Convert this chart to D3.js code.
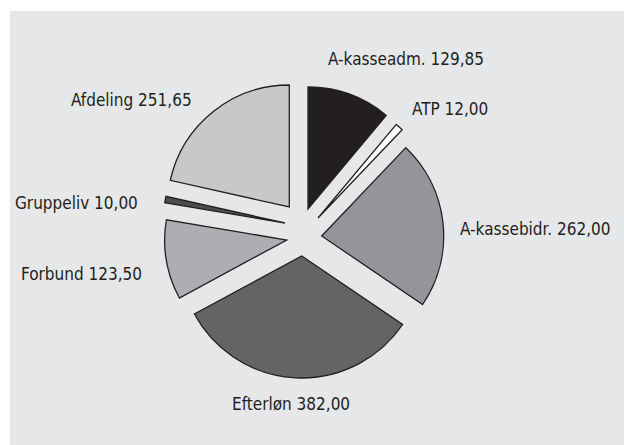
<!DOCTYPE html>
<html>
<head>
<meta charset="utf-8">
<script src="https://cdn.jsdelivr.net/npm/d3@7/dist/d3.min.js"></script>
<style>
  html, body { margin: 0; padding: 0; background: #ffffff; }
  svg { display: block; }
  text { font-family: "DejaVu Sans Condensed", "Liberation Sans Narrow", "Liberation Sans", sans-serif; }
</style>
</head>
<body>
<div id="chart"></div>
<script>
// ---- data ----
const categories = ["A-kasseadm.", "ATP", "A-kassebidr.", "Efterløn", "Forbund", "Gruppeliv", "Afdeling"];
const values = [129.85, 12.00, 262.00, 382.00, 123.50, 10.00, 251.65];

// ---- styles / layout ----
const colors = ["#231f20", "#ffffff", "#939598", "#636466", "#adaeb1", "#4d4d4f", "#c7c8ca"];
// per-slice explosion offset (dx, dy) from the pie centre
const explode = [[4, -28], [14, -19], [17.7, -1], [-2.3, 19], [-17.3, 3], [-19, -14], [-14.7, -30]];
// label anchor points (left x, baseline y)
const labelPos = [[328, 65], [412, 115], [460, 235], [232, 410], [21, 280], [15, 209], [71, 106]];

const W = 624, H = 445;
const cx = 304, cy = 237, radius = 122;

const locale = d3.formatLocale({ decimal: ",", thousands: ".", grouping: [3], currency: ["", " kr."] });
const fmt = locale.format(".2f");

const svg = d3.select("#chart").append("svg").attr("width", W).attr("height", H);

svg.append("rect").attr("x", 10).attr("y", 11).attr("width", W - 10).attr("height", H - 11)
  .attr("fill", "#e6e7e8");

const pie = d3.pie().sort(null).value(d => d).startAngle(0).endAngle(2 * Math.PI);
const arc = d3.arc().innerRadius(0).outerRadius(radius);
const arcs = pie(values);

svg.append("g").selectAll("path").data(arcs).join("path")
  .attr("transform", (d, i) => `translate(${cx + explode[i][0]},${cy + explode[i][1]})`)
  .attr("d", arc)
  .attr("fill", (d, i) => colors[i])
  .attr("stroke", "#231f20")
  .attr("stroke-width", 1.3)
  .attr("stroke-linejoin", "miter");

svg.append("g").selectAll("text").data(categories).join("text")
  .attr("x", (d, i) => labelPos[i][0])
  .attr("y", (d, i) => labelPos[i][1])
  .attr("font-size", 17)
  .attr("fill", "#231f20")
  .text((d, i) => `${d} ${fmt(values[i])}`);
</script>
</body>
</html>
